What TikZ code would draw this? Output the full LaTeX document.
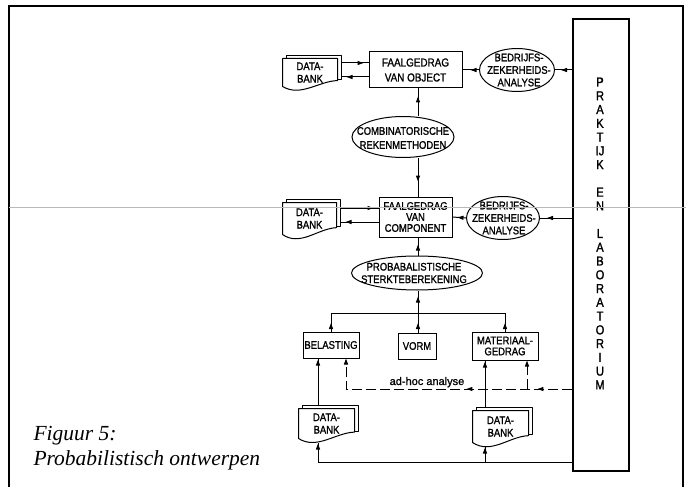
\documentclass[tikz,border=0pt]{standalone}
\usepackage{fontspec}
\setmainfont{Liberation Serif}
\newfontfamily\draftfam[FakeStretch=0.86,FakeBold=1.3]{Liberation Sans}
\newfontfamily\plainsans[FakeBold=1]{Liberation Sans}
\usetikzlibrary{shapes.geometric,arrows.meta,calc,decorations.markings}
\newcommand\dfont{\draftfam\fontsize{11}{12.5}\selectfont}
\newcommand\bfontx{\draftfam\fontsize{11.5}{15}\selectfont}
\newcommand\cfontx{\draftfam\fontsize{11}{11}\selectfont}
\newcommand\pfontx{\draftfam\fontsize{13}{13}\selectfont}
\tikzset{
  tipat/.style={postaction={decorate,decoration={markings,mark=at position #1 with {\arrow{Triangle[length=6pt,width=4pt]}}}}},
  abox/.style={draw, rectangle, inner sep=0pt, align=center, font=\dfont},
  ell/.style={draw, ellipse, inner sep=0pt},
  lbl/.style={align=center, font=\dfont, inner sep=0pt},
  dbn/.style={inner sep=0pt, align=center, font=\dfont},
  dbl/.style={line width=1pt, line join=round},
  dsh/.style={dash pattern=on 10pt off 4pt},
}
\newcommand\dbshape[2]{%
  \draw[dbl] (#1.south west) -- (#1.north west) -- (#1.north east) -- ($(#1.south east)+(0,-0.22*#2)$)
    .. controls ($(#1.south west)!0.66!(#1.south east)+(0,-0.2*#2)$) and ($(#1.south west)!0.33!(#1.south east)+(0,0.4*#2)$) .. (#1.south west) -- cycle;
  \draw[dbl] ($(#1.north west)+(4,0)$) -- ++(0,-3) -| ($(#1.south east)+(4,-0.22*#2-1)$) -- ++(-4,0);
}
\begin{document}
\begin{tikzpicture}[x=1pt,y=-1pt,line width=1pt]
\useasboundingbox (0,0) rectangle (686,487);
% outer frame
\draw[line width=1.6pt] (9,487) -- (9,6) -- (683,6) -- (683,487);

% top level
\node[dbn, minimum width=54, minimum height=27] (db1) at (310,72.5) {DATA-\\BANK};
\dbshape{db1}{27}
\node[abox, minimum width=93, minimum height=36, font=\bfontx] (obj) at (415.5,70) {FAALGEDRAG\\VAN OBJECT};
\node[ell, minimum width=75, minimum height=43] (bed1) at (517,70) {};
\node[lbl] (bed1t) at (519,70) {BEDRIJFS-\\ZEKERHEIDS-\\ANALYSE};

\node[ell, minimum width=102, minimum height=41] (comb) at (403,137) {};
\node[lbl, font=\draftfam\fontsize{11}{14}\selectfont] (combt) at (403,138) {COMBINATORISCHE\\REKENMETHODEN};

% component level
\node[dbn, minimum width=53, minimum height=31] (db2) at (309.5,218.5) {DATA-\\BANK};
\dbshape{db2}{31}
\node[abox, minimum width=73, minimum height=40, font=\cfontx] (comp) at (415.5,217) {FAALGEDRAG\\VAN\\COMPONENT};
\node[ell, minimum width=73, minimum height=43] (bed2) at (503,218) {};
\node[lbl] (bed2t) at (504,218) {BEDRIJFS-\\ZEKERHEIDS-\\ANALYSE};

\node[ell, minimum width=131, minimum height=34] (prob) at (417,273) {};
\node[lbl] (probt) at (414,273) {PROBABALISTISCHE\\STERKTEBEREKENING};

% bottom level
\node[abox, minimum width=56, minimum height=26] (bel) at (331,345) {BELASTING};
\node[abox, minimum width=38, minimum height=26] (vorm) at (417,346) {VORM};
\node[abox, minimum width=66, minimum height=28, font=\cfontx] (mat) at (505,346) {MATERIAAL-\\GEDRAG};
\node[dbn, minimum width=55, minimum height=29] (db3) at (326.5,423.5) {DATA-\\BANK};
\dbshape{db3}{29}
\node[dbn, minimum width=55, minimum height=31] (db4) at (500.5,426.5) {DATA-\\BANK};
\dbshape{db4}{31}

% praktijk box
\node[draw, line width=1.2pt, minimum width=56, minimum height=452, inner sep=0pt] (prak) at (601,245) {};
\foreach \l [count=\i from 0] in {P,R,A,K,T,IJ,K,,E,N,,L,A,B,O,R,A,T,O,R,I,U,M}
  \node[font=\pfontx, inner sep=0pt] (pk\i) at (600,82+\i*13.77) {\l};

% connectors top
\coordinate (db1r) at ($(db1.east)+(4,0)$);
\draw[tipat=-5pt] ($(obj.west -| db1r)+(0,-7)$) -- ($(obj.west)+(0,-7)$);
\draw[tipat=-5pt] ($(obj.west)+(0,7)$) -- ($(obj.west -| db1r)+(0,7)$);
\draw[tipat=-8pt] (bed1.west) -- (obj.east);
\draw[tipat=-6pt] (prak.west |- bed1.east) -- (bed1.east);
\coordinate (cx) at (418,0);
\draw[tipat=-8pt] (comb.north -| cx) -- (obj.south -| cx);
\draw[tipat=-15pt] (comb.south -| cx) -- (comp.north -| cx);

% connectors component
\coordinate (db2r) at ($(db2.east)+(4,0)$);
\draw[tipat=-5pt] ($(comp.west -| db2r)+(0,-9)$) -- ($(comp.west)+(0,-9)$);
\draw[tipat=-5pt] ($(comp.west)+(0,5)$) -- ($(comp.west -| db2r)+(0,5)$);
\draw[tipat=-5pt] (bed2.west) -- (comp.east);
\draw[tipat=-7pt] (prak.west |- bed2.east) -- (bed2.east);
\draw[tipat=-7pt] (prob.north -| cx) -- (comp.south -| cx);

% bus
\coordinate (bus) at (0,313);
\draw[tipat=-6pt] (bus -| cx) -- (prob.south -| cx);
\draw (bel.north |- bus) -- (mat.north |- bus);
\draw[tipat=-10pt] (bel.north) -- (bel.north |- bus);
\draw[tipat=-10pt] (vorm.north -| cx) -- (bus -| cx);
\draw[tipat=-10pt] (mat.north) -- (mat.north |- bus);

% data banks below
\coordinate (c3) at (318,0);
\coordinate (c4) at (485,0);
\draw[tipat=-1pt] ($(db3.north -| c3)+(0,-3)$) -- (bel.south -| c3);
\draw[tipat=-1pt] ($(db4.north -| c4)+(0,-3)$) -- (mat.south -| c4);
\coordinate (bot) at (0,462);
\draw (prak.west |- bot) -- (bot -| c3);
\draw[tipat=-1pt] (bot -| c3) -- ($(db3.south west -| c3)+(0,4)$);
\draw[tipat=-1pt] (bot -| c4) -- ($(db4.south west -| c4)+(0,4)$);

% ad-hoc analyse
\coordinate (adh) at (0,389);
\coordinate (bx) at (346,0);
\coordinate (mx) at (527,0);
\draw[dsh, -{Triangle[length=6pt,width=4pt]},
  postaction={decorate,decoration={markings,
    mark=at position 35pt with {\arrow{Triangle[length=6pt,width=4pt]}},
    mark=at position 106pt with {\arrow{Triangle[length=6pt,width=4pt]}}}}]
  (prak.west |- adh) -- (bx |- adh) -- (bel.south -| bx);
\draw[dsh, -{Triangle[length=6pt,width=4pt]}] (mx |- adh) -- (mat.south -| mx);
\node[font=\plainsans\fontsize{11}{12}\selectfont, anchor=base, inner sep=0pt] (adhoc) at (427,385) {ad-hoc analyse};

% caption
\node[anchor=base west, inner sep=0pt, font=\fontsize{21.5}{25}\selectfont\itshape] (cap1) at (33,440) {Figuur 5:};
\node[anchor=base west, inner sep=0pt, font=\fontsize{21.5}{25}\selectfont\itshape] (cap2) at (33,465) {Probabilistisch ontwerpen};

% scan line
\draw[gray!55, line width=0.9pt] (9,207) -- (686,207);
\end{tikzpicture}
\end{document}
